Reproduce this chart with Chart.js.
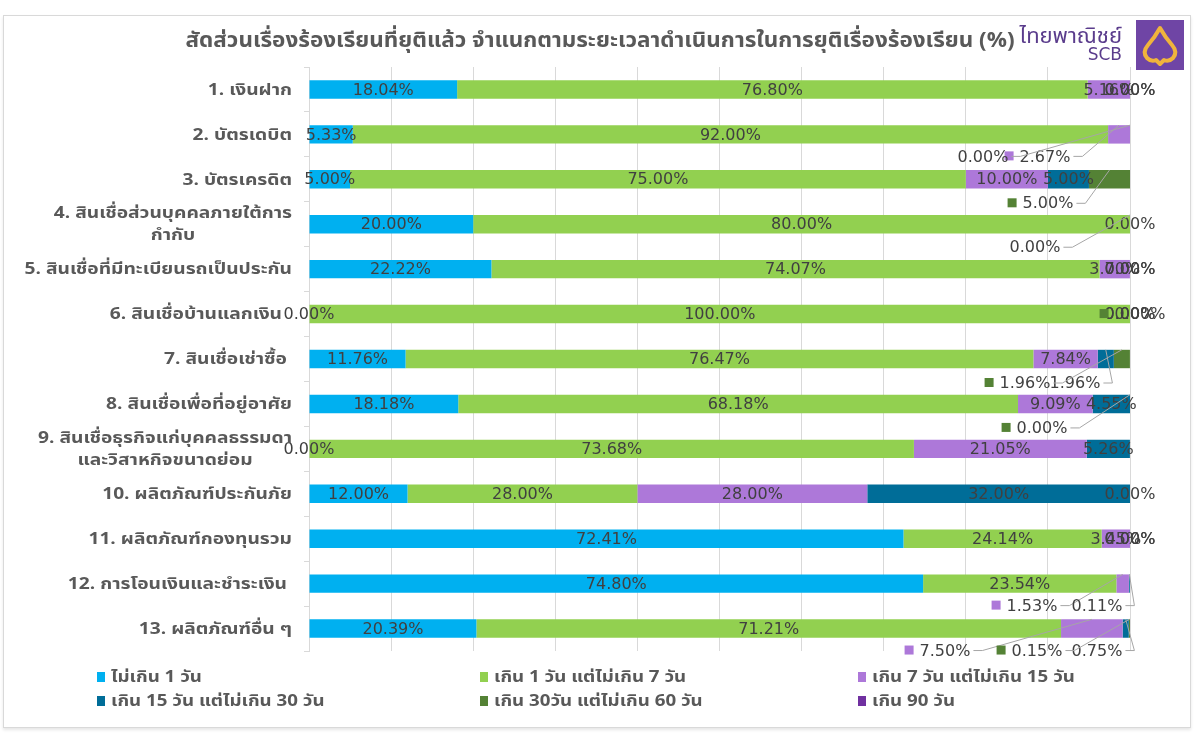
<!DOCTYPE html>
<html>
<head>
<meta charset="utf-8">
<script src="https://cdn.jsdelivr.net/npm/chart.js@4"></script>
<style>
  body { margin: 0; background: #fff; }
  #wrap { position: relative; width: 1200px; height: 741px; overflow: hidden; }
  #frame { position: absolute; left: 3px; top: 15px; width: 1186px; height: 711px;
           border: 1px solid #d9d9d9; box-shadow: 0 2px 3px #e6e6e6; }
  #title { position: absolute; left: 0; width: 1200px; top: 25px; text-align: center;
           font: bold 21px Tahoma, "Noto Sans Thai", "Noto Sans", "DejaVu Sans", sans-serif; color: #595959;
           transform: scaleX(1.07); transform-origin: 599px 0; white-space: nowrap; }
  #logo { position: absolute; left: 1020px; top: 18px; width: 170px; height: 54px; white-space: nowrap; }
  #logo .th { position: absolute; right: 68px; top: 2px; font: 22px "Noto Sans Thai", Tahoma, sans-serif; color: #5a3c8c; }
  #logo .en { position: absolute; right: 68px; top: 26px; font: 17px "DejaVu Sans", sans-serif; color: #5a3c8c; }
  #logo svg { position: absolute; left: 116px; top: 2px; }
  canvas { position: absolute; left: 0; top: 0; }
  #legend { position: absolute; left: 97px; top: 665px; width: 1100px;
            display: grid; grid-template-columns: 383px 378px 300px; line-height: 23px;
            font: bold 16px Tahoma, "Noto Sans Thai", "Noto Sans", sans-serif; color: #595959; white-space: nowrap; }
  #legend span.k { display: inline-block; width: 8px; height: 10px; margin-right: 6px; }
  #legend span.t { display: inline-block; transform: scaleX(1.17); transform-origin: 0 0; }
</style>
</head>
<body>
<div id="wrap">
  <div id="frame"></div>
  <canvas id="resolveChart" width="1200" height="741"></canvas>
  <div id="title">สัดส่วนเรื่องร้องเรียนที่ยุติแล้ว จำแนกตามระยะเวลาดำเนินการในการยุติเรื่องร้องเรียน (%)</div>
  <div id="logo">
    <span class="th">ไทยพาณิชย์</span>
    <span class="en">SCB</span>
    <svg width="48" height="50" viewBox="0 0 48 50">
      <rect x="0" y="0" width="48" height="50" fill="#6f45a5"/>
      <path d="M24 8 Q29 17 36 25 Q42 32 37 38 Q33 42 28 40 L24 44 L20 40 Q15 42 11 38 Q6 32 12 25 Q19 17 24 8 Z"
            fill="none" stroke="#f0b43c" stroke-width="4" stroke-linejoin="round"/>
    </svg>
  </div>
  <div id="legend"></div>
</div>
<script>
/*
    Complaint resolution time, stacked 100% bars
*/
var categories = [
    '1. เงินฝาก',
    '2. บัตรเดบิต',
    '3. บัตรเครดิต',
    ['4. สินเชื่อส่วนบุคคลภายใต้การ', 'กำกับ'],
    '5. สินเชื่อที่มีทะเบียนรถเป็นประกัน',
    '6. สินเชื่อบ้านแลกเงิน  ',
    '7. สินเชื่อเช่าซื้อ ',
    '8. สินเชื่อเพื่อที่อยู่อาศัย',
    ['9. สินเชื่อธุรกิจแก่บุคคลธรรมดา', 'และวิสาหกิจขนาดย่อม'],
    '10. ผลิตภัณฑ์ประกันภัย',
    '11. ผลิตภัณฑ์กองทุนรวม',
    '12. การโอนเงินและชำระเงิน ',
    '13. ผลิตภัณฑ์อื่น ๆ'
];

var seriesNames = [
    'ไม่เกิน 1 วัน',
    'เกิน 1 วัน แต่ไม่เกิน 7 วัน',
    'เกิน 7 วัน แต่ไม่เกิน 15 วัน',
    'เกิน 15 วัน แต่ไม่เกิน 30 วัน',
    'เกิน 30วัน แต่ไม่เกิน 60 วัน',
    'เกิน 90 วัน'
];

var within1Day  = [18.04, 5.33, 5.00, 20.00, 22.22, 0.00, 11.76, 18.18, 0.00, 12.00, 72.41, 74.80, 20.39];
var days1to7    = [76.80, 92.00, 75.00, 80.00, 74.07, 100.00, 76.47, 68.18, 73.68, 28.00, 24.14, 23.54, 71.21];
var days7to15   = [5.16, 2.67, 10.00, 0.00, 3.70, 0.00, 7.84, 9.09, 21.05, 28.00, 3.45, 1.53, 7.50];
var days15to30  = [0.00, 0.00, 5.00, 0.00, 0.00, 0.00, 1.96, 4.55, 5.26, 32.00, 0.00, 0.11, 0.75];
var days30to60  = [0.00, 0.00, 5.00, 0.00, 0.00, 0.00, 1.96, 0.00, 0.00, 0.00, 0.00, 0.00, 0.15];
var over90Days  = [0, 0, 0, 0, 0, 0, 0, 0, 0, 0, 0, 0, 0];

var seriesValues = [within1Day, days1to7, days7to15, days15to30, days30to60, over90Days];
var seriesColors = ['#00b0f0', '#92d050', '#ad78d9', '#006d98', '#548235', '#7030a0'];

/* label placement: "row,series" -> hidden or pulled out below the bar (dx from 100% edge) */
var labelTweaks = {
    '1,2': { dx: -85, dy: 22, key: true },
    '1,3': { dx: -147, dy: 22 },
    '1,4': 'hide',
    '2,4': { dx: -82, dy: 24, key: true },
    '3,3': { dx: -95, dy: 23 },
    '3,4': 'hide',
    '5,4': { dx: 10, dy: 0, key: true },
    '6,3': { dx: -55, dy: 24 },
    '6,4': { dx: -105, dy: 24, key: true },
    '7,4': { dx: -88, dy: 24, key: true },
    '8,4': 'hide',
    '11,2': { dx: -98, dy: 22, key: true },
    '11,3': { dx: -33, dy: 22 },
    '11,4': 'hide',
    '12,2': { dx: -185, dy: 22, key: true },
    '12,3': { dx: -33, dy: 22 },
    '12,4': { dx: -93, dy: 22, key: true }
};

var labelFont = '16px "DejaVu Sans", Verdana, sans-serif';
var thaiBold = 'bold 16px Tahoma, "Noto Sans Thai", "Noto Sans", "DejaVu Sans", sans-serif';
var thaiStretch = 1.2;

var barLabels = {
    id: 'barLabels',
    afterDatasetsDraw: function (chart) {
        var ctx = chart.ctx;
        var area = chart.chartArea;
        ctx.save();
        ctx.font = labelFont;
        ctx.textAlign = 'center';
        ctx.textBaseline = 'middle';
        chart.data.datasets.forEach(function (ds, d) {
            if (d === 5) return;
            var meta = chart.getDatasetMeta(d);
            meta.data.forEach(function (el, i) {
                var tw = labelTweaks[i + ',' + d];
                if (tw === 'hide') return;
                var txt = ds.data[i].toFixed(2) + '%';
                var cx = (el.x + el.base) / 2;
                var tx = cx, ty = el.y;
                if (tw) {
                    tx = area.right + tw.dx;
                    ty = el.y + tw.dy;
                }
                var w = ctx.measureText(txt).width;
                if (tw && tw.dy !== 0) {
                    ctx.strokeStyle = '#a6a6a6';
                    ctx.lineWidth = 1;
                    ctx.beginPath();
                    ctx.moveTo(tx + w / 2 + 3, ty);
                    ctx.lineTo(tx + w / 2 + 12, ty);
                    ctx.lineTo(cx, el.y - el.height / 2);
                    ctx.stroke();
                }
                if (tw && tw.key) {
                    ctx.fillStyle = seriesColors[d];
                    ctx.fillRect(tx - w / 2 - 15, ty - 5, 9, 9);
                }
                ctx.fillStyle = '#404040';
                ctx.fillText(txt, tx, ty + 1);
            });
        });
        ctx.restore();
    }
};

var categoryLabels = {
    id: 'categoryLabels',
    afterDraw: function (chart) {
        var ctx = chart.ctx;
        var yScale = chart.scales.y;
        ctx.save();
        ctx.font = thaiBold;
        ctx.fillStyle = '#595959';
        ctx.textAlign = 'center';
        ctx.textBaseline = 'middle';
        categories.forEach(function (lbl, i) {
            var lines = Array.isArray(lbl) ? lbl : [lbl];
            var maxW = 0;
            lines.forEach(function (l) { maxW = Math.max(maxW, ctx.measureText(l).width); });
            var cx = 292 - maxW * thaiStretch / 2;
            var y0 = yScale.getPixelForTick(i) + 2 - (lines.length - 1) * 11;
            lines.forEach(function (l, k) {
                ctx.save();
                ctx.translate(cx, y0 + k * 22);
                ctx.scale(thaiStretch, 1);
                ctx.fillText(l, 0, 0);
                ctx.restore();
            });
        });
        ctx.restore();
    }
};

var ctx = document.getElementById('resolveChart').getContext('2d');
var resolveChart = new Chart(ctx, {
    type: 'bar',
    data: {
        labels: categories,
        datasets: seriesValues.map(function (vals, i) {
            return {
                label: seriesNames[i],
                data: vals,
                backgroundColor: seriesColors[i],
                borderWidth: 0,
                barPercentage: 0.41,
                categoryPercentage: 1.0
            };
        })
    },
    options: {
        indexAxis: 'y',
        responsive: false,
        animation: false,
        layout: { padding: { left: 0, right: 70, top: 67, bottom: 90 } },
        plugins: {
            legend: { display: false },
            tooltip: { enabled: false }
        },
        scales: {
            x: {
                stacked: true,
                min: 0,
                max: 100,
                ticks: { display: false, stepSize: 10 },
                grid: { color: '#d9d9d9', drawTicks: false },
                border: { display: false },
                afterFit: function (s) { s.height = 0; }
            },
            y: {
                stacked: true,
                ticks: { display: false },
                grid: { drawOnChartArea: false, color: '#d9d9d9', tickLength: 5 },
                border: { display: true, color: '#d9d9d9' },
                afterFit: function (s) { s.width = 309; }
            }
        }
    },
    plugins: [barLabels, categoryLabels]
});

var legend = document.getElementById('legend');
seriesNames.forEach(function (name, i) {
    var item = document.createElement('div');
    item.innerHTML = '<span class="k" style="background:' + seriesColors[i] + '"></span><span class="t">' + name + '</span>';
    legend.appendChild(item);
});
</script>
</body>
</html>
